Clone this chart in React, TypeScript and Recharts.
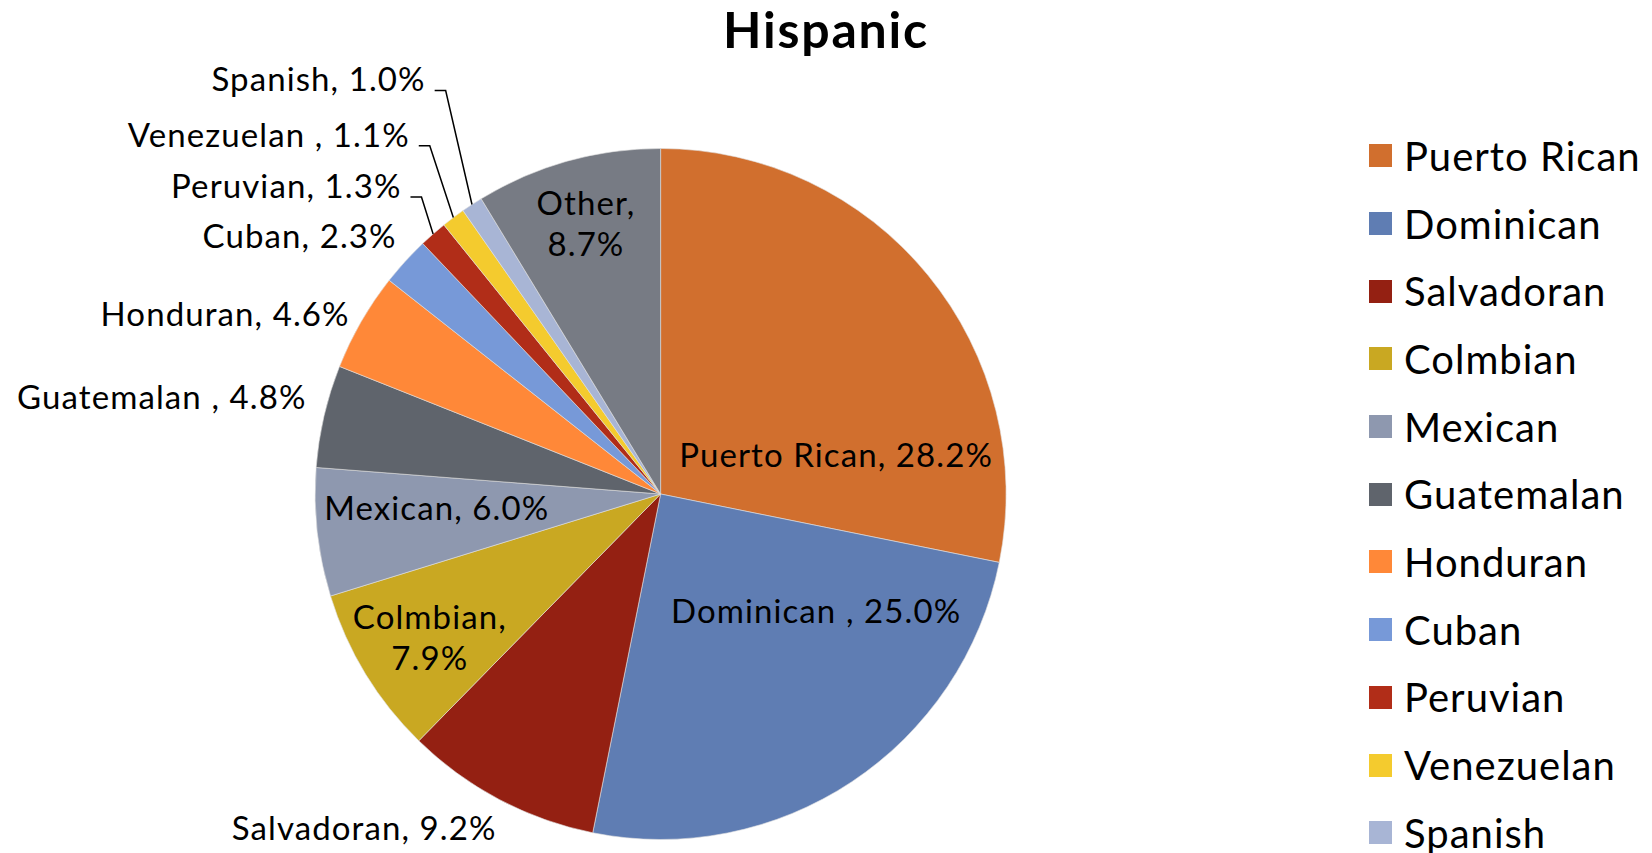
import { PieChart, Pie, Cell, Legend } from 'recharts';

// Hispanic origin breakdown, clockwise from 12 o'clock
const categories = ['Puerto Rican', 'Dominican ', 'Salvadoran', 'Colmbian', 'Mexican', 'Guatemalan ', 'Honduran', 'Cuban', 'Peruvian', 'Venezuelan ', 'Spanish', 'Other'];
const shares = [28.2, 25.0, 9.2, 7.9, 6.0, 4.8, 4.6, 2.3, 1.3, 1.1, 1.0, 8.7];
const colors = ['#D16F2E', '#5F7DB3', '#942012', '#C9A822', '#8E98AF', '#5F646C', '#FF8838', '#7799D8', '#B12D18', '#F4CB2E', '#A8B5D5', '#777B84'];

const data = categories.map((name, i) => ({ name, value: shares[i] }));

const FONT = 'Lato, "Open Sans", sans-serif';
const RAD = Math.PI / 180;

// label placement, as fractions of the pie radius from its centre (y is the baseline)
const labelPlace = [
  { fx: 0.508, fy: -0.077, anchor: 'middle' },
  { fx: 0.45, fy: 0.372, anchor: 'middle' },
  { fx: -0.858, fy: 1.0, anchor: 'middle' },
  { fx: -0.668, fy: 0.392, anchor: 'middle', split: true },
  { fx: -0.648, fy: 0.074, anchor: 'middle' },
  { fx: -1.025, fy: -0.247, anchor: 'end' },
  { fx: -0.9, fy: -0.487, anchor: 'end' },
  { fx: -0.764, fy: -0.712, anchor: 'end' },
  { fx: -0.75, fy: -0.857, anchor: 'end', leader: true },
  { fx: -0.726, fy: -1.005, anchor: 'end', leader: true },
  { fx: -0.68, fy: -1.165, anchor: 'end', leader: true },
  { fx: -0.216, fy: -0.808, anchor: 'middle', split: true },
];

function renderLabel(props: any) {
  const { cx, cy, outerRadius, midAngle, index } = props;
  const p = labelPlace[index];
  const x = cx + p.fx * outerRadius;
  const y = cy + p.fy * outerRadius;
  const text = `${categories[index]}, ${shares[index].toFixed(1)}%`;
  const parts = p.split ? [text.slice(0, text.indexOf(',') + 1), text.slice(text.indexOf(',') + 2)] : [text];
  const ex = cx + outerRadius * Math.cos(-midAngle * RAD);
  const ey = cy + outerRadius * Math.sin(-midAngle * RAD);
  return (
    <g key={`lbl-${index}`}>
      <text x={x} y={y} textAnchor={p.anchor} fill="#000" fontSize={33} letterSpacing={1.1} fontFamily={FONT}>
        {parts.map((t, k) => (
          <tspan key={k} x={x} dy={k === 0 ? 0 : 41}>{t}</tspan>
        ))}
      </text>
      {p.leader && (
        <polyline
          points={`${x + 9},${y - 1} ${x + 20},${y - 1} ${ex},${ey}`}
          fill="none"
          stroke="#000"
          strokeWidth={1.5}
        />
      )}
    </g>
  );
}

function renderLegend() {
  return (
    <div style={{ fontFamily: FONT }}>
      {categories.map((c, i) => (
        <div key={c} style={{ height: 67.7, display: 'flex', alignItems: 'center' }}>
          <div style={{ width: 23, height: 23, background: colors[i], marginRight: 12 }} />
          <span style={{ fontSize: 40, color: '#000', letterSpacing: 1, lineHeight: 1 }}>{c.trim()}</span>
        </div>
      ))}
    </div>
  );
}

export default function App() {
  return (
    <div style={{ position: 'fixed', left: 0, top: 0, width: 1652, height: 853, overflow: 'hidden', background: '#fff' }}>
      <svg style={{ position: 'absolute', left: 0, top: 0 }} width={1652} height={70}>
        <text x={826} y={48} textAnchor="middle" fontSize={50} fontWeight={700} letterSpacing={1.8} fontFamily={FONT} fill="#000">
          Hispanic
        </text>
      </svg>
      <PieChart width={1652} height={853} margin={{ top: 0, right: 0, bottom: 0, left: 0 }}>
        <Pie
          data={data}
          dataKey="value"
          nameKey="name"
          cx={660.6}
          cy={494}
          outerRadius={345.5}
          startAngle={90}
          endAngle={-270}
          stroke="#e0e0e0"
          strokeWidth={0.6}
          label={renderLabel}
          labelLine={false}
          isAnimationActive={false}
        >
          {data.map((d, i) => (
            <Cell key={d.name} fill={colors[i]} />
          ))}
        </Pie>
        <Legend
          layout="vertical"
          content={renderLegend}
          wrapperStyle={{ left: 1369, top: 122, width: 283, height: 900, overflow: 'visible' }}
        />
      </PieChart>
    </div>
  );
}
